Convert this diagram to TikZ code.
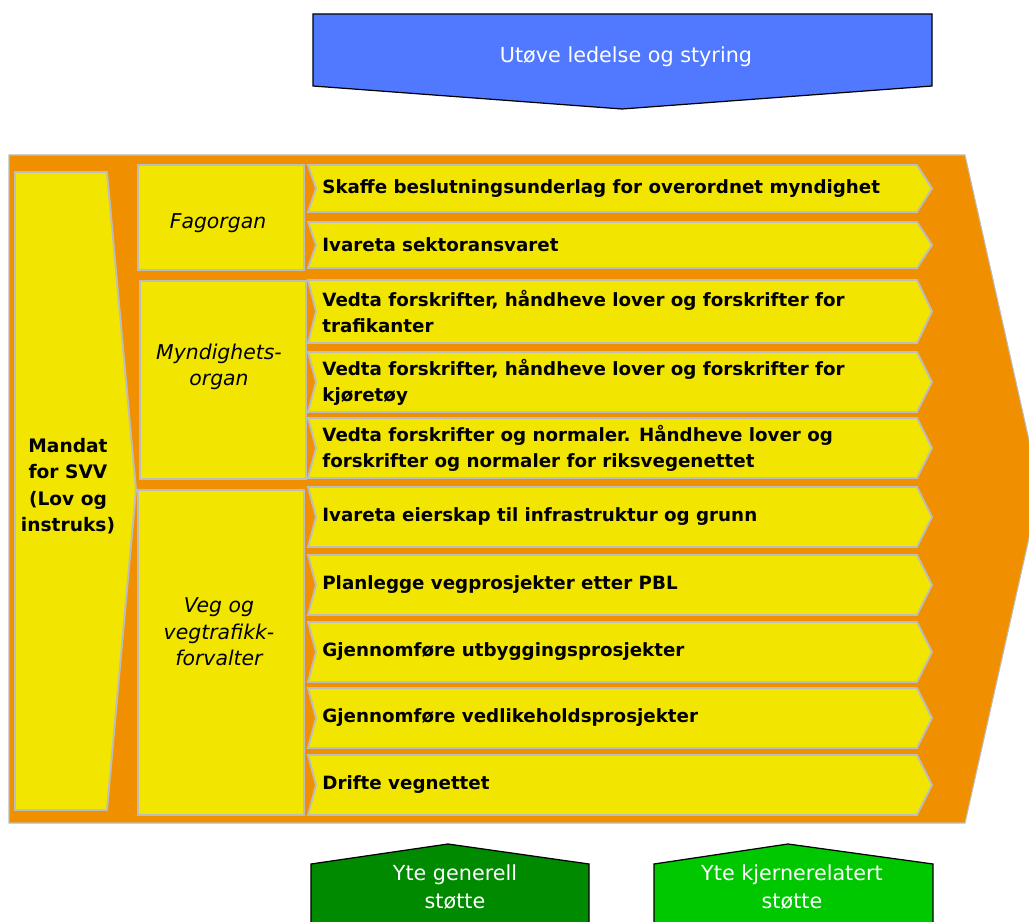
\documentclass[tikz,border=0pt]{standalone}
\usepackage{fontspec}
\setmainfont{DejaVu Sans}
\usepackage{xcolor}
\usepackage{tikz}
\definecolor{band}{HTML}{F09000}
\definecolor{lemon}{HTML}{F2E600}
\definecolor{frame}{HTML}{BDBDBD}
\definecolor{steer}{HTML}{5079FF}
\definecolor{dkgreen}{HTML}{008A00}
\definecolor{ltgreen}{HTML}{00C800}
\tikzset{
  bandline/.style={fill=band, draw=frame, line width=0.6pt},
  box/.style={fill=lemon, draw=frame, line width=1.1pt},
  tab/.style={draw=black, line width=0.7pt},
  lbl/.style={text=black, font=\bfseries\fontsize{10.4}{14.7}\selectfont, align=left, anchor=west, inner sep=0pt},
  role/.style={text=black, font=\itshape\fontsize{11.6}{15}\selectfont, align=center, inner sep=0pt},
  mlbl/.style={text=black, font=\bfseries\fontsize{10.6}{15}\selectfont, align=center, inner sep=0pt},
  wlbl/.style={text=white, font=\fontsize{11.8}{15.6}\selectfont, align=center, inner sep=0pt}
}
\begin{document}
\begin{tikzpicture}[x=0.02cm, y=-0.02cm]
  \useasboundingbox (0,0) rectangle (1029,922);
  \clip (0,0) rectangle (1029,922);

  \draw[tab, fill=steer] (313,14) -- (932,14) -- (932,86) -- (622,109) -- (313,86) -- cycle;
  \node[wlbl] (steering) at (626,57) {Utøve ledelse og styring};

  \draw[bandline] (9,155) -- (965,155) -- (1040,489) -- (965,823) -- (9,823) -- cycle;

  \draw[box] (15,172) -- (107,172) -- (136,490) -- (107,810) -- (15,810) -- cycle;
  \node[mlbl] (mandate) at (68,486) {Mandat\\for SVV\\(Lov og\\instruks)};

  \draw[box] (138,165) rectangle (304,270);
  \draw[box] (140,281) rectangle (306,479);
  \draw[box] (138,490) rectangle (304,815);
  \node[role] (fag) at (218,223) {Fagorgan};
  \node[role] (myn) at (219,367) {Myndighets-\\organ};
  \node[role] (veg) at (219,632) {Veg og\\vegtrafikk-\\forvalter};

  \foreach \n/\ya/\yb/\txt in {
    r1/165/212/{Skaffe beslutningsunderlag for overordnet myndighet},
    r2/222/268/{Ivareta sektoransvaret},
    r3/280/343/{Vedta forskrifter, håndheve lover og forskrifter for\\trafikanter},
    r4/352/412/{Vedta forskrifter, håndheve lover og forskrifter for\\kjøretøy},
    r5/418/478/{Vedta forskrifter og normaler. Håndheve lover og\\forskrifter og normaler for riksvegenettet},
    r6/487/547/{Ivareta eierskap til infrastruktur og grunn},
    r7/555/615/{Planlegge vegprosjekter etter PBL},
    r8/622/682/{Gjennomføre utbyggingsprosjekter},
    r9/688/748/{Gjennomføre vedlikeholdsprosjekter},
    r10/755/815/{Drifte vegnettet}} {
    \pgfmathsetmacro\ym{(\ya+\yb)/2}
    \draw[box] (308,\ya) -- (917,\ya) -- (932,\ym) -- (917,\yb) -- (308,\yb) -- (316,\ym) -- cycle;
    \node[lbl] (\n) at (322,\ym) {\txt};
  }

  \draw[tab, fill=dkgreen] (311,930) -- (311,864) -- (448,844) -- (589,864) -- (589,930);
  \draw[tab, fill=ltgreen] (654,930) -- (654,864) -- (788,844) -- (933,864) -- (933,930);
  \node[wlbl] (general) at (455,887) {Yte generell\\støtte};
  \node[wlbl] (core) at (792,887) {Yte kjernerelatert\\støtte};
\end{tikzpicture}
\end{document}
